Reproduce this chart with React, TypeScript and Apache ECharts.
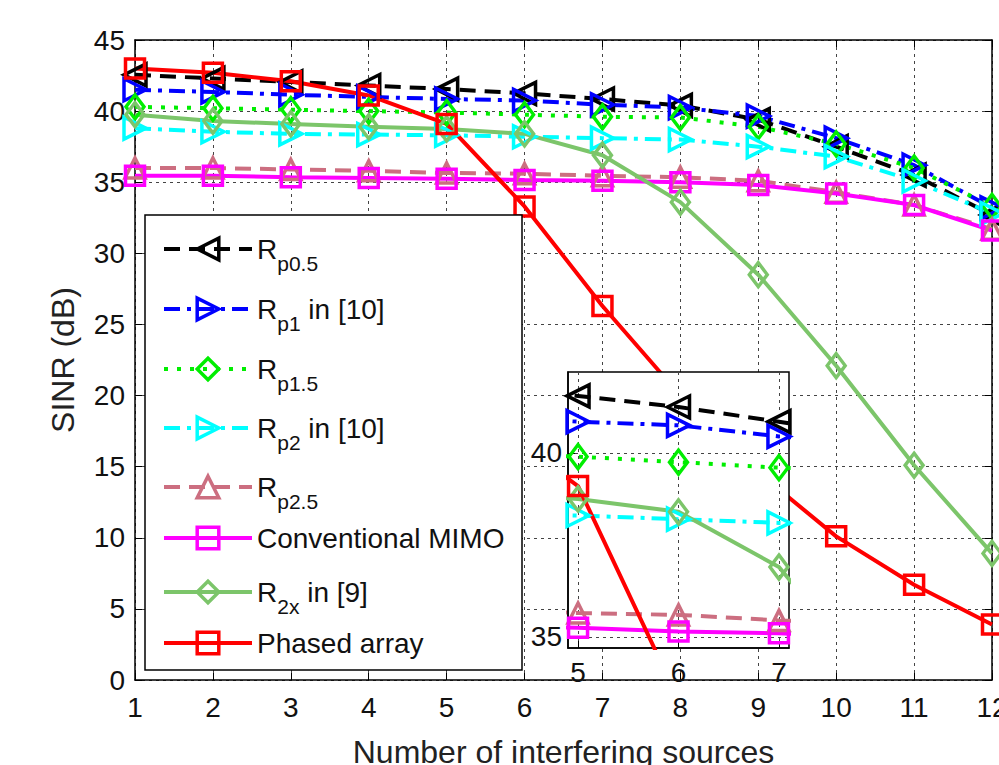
import React, { useEffect, useRef } from "react";
import * as echarts from "echarts";

// ---------- data ----------
const sources = [1, 2, 3, 4, 5, 6, 7, 8, 9, 10, 11, 12];
const rp05 = [42.55, 42.3, 42.05, 41.8, 41.55, 41.25, 40.85, 40.4, 39.4, 37.5, 35.5, 32.7];
const rp1 = [41.5, 41.35, 41.15, 41.0, 40.85, 40.75, 40.45, 40.25, 39.65, 38.1, 36.2, 33.2];
const rp15 = [40.3, 40.2, 40.1, 40.0, 39.9, 39.75, 39.6, 39.55, 38.9, 37.7, 36.0, 33.3];
const rp2 = [38.8, 38.55, 38.4, 38.35, 38.3, 38.2, 38.1, 38.0, 37.5, 36.8, 35.1, 32.8];
const rp25 = [36.0, 36.0, 35.9, 35.8, 35.65, 35.6, 35.45, 35.35, 35.1, 34.3, 33.4, 31.7];
const mimo = [35.45, 35.45, 35.35, 35.3, 35.25, 35.15, 35.1, 35.0, 34.8, 34.2, 33.4, 31.6];
const r2x = [39.75, 39.3, 39.1, 38.9, 38.75, 38.4, 36.9, 33.6, 28.5, 22.1, 15.1, 8.9];
const phased = [43.0, 42.7, 42.1, 41.1, 39.1, 33.3, 26.3, 20.0, 14.6, 10.1, 6.7, 3.9];

const seriesNames = [
  "Rp0.5",
  "Rp1 in [10]",
  "Rp1.5",
  "Rp2 in [10]",
  "Rp2.5",
  "Conventional MIMO",
  "R2x in [9]",
  "Phased array",
];
const seriesValues = [rp05, rp1, rp15, rp2, rp25, mimo, r2x, phased];
const legendLabels = [
  "{r|R}{s|p0.5}",
  "{r|R}{s|p1}{r| in [10]}",
  "{r|R}{s|p1.5}",
  "{r|R}{s|p2}{r| in [10]}",
  "{r|R}{s|p2.5}",
  "{r|Conventional MIMO}",
  "{r|R}{s|2x}{r| in [9]}",
  "{r|Phased array}",
];
const insetXTicks = [5, 6, 7];
const insetYTicks = [35, 40];

// ---------- styles ----------
const styleDefs: any[] = [
  { color: "#000000", dash: [16, 9], symbol: "triangle", rotate: 90, size: 22 },
  { color: "#0000ff", dash: [16, 7, 4, 7], symbol: "triangle", rotate: -90, size: 22 },
  { color: "#00ee00", dash: [4, 9], symbol: "diamond", rotate: 0, size: [18, 24] },
  { color: "#00ffff", dash: [16, 7, 4, 7], symbol: "triangle", rotate: -90, size: 22 },
  { color: "#cc6e80", dash: [16, 9], symbol: "triangle", rotate: 0, size: 20 },
  { color: "#ff00ff", dash: "solid", symbol: "rect", rotate: 0, size: 19 },
  { color: "#7cc56a", dash: "solid", symbol: "diamond", rotate: 0, size: [18, 24] },
  { color: "#ff0000", dash: "solid", symbol: "rect", rotate: 0, size: 19 },
];
const legendCenters = [249, 309, 369, 428, 487, 538, 592, 643];
const FONT = "'Liberation Sans', Arial, Helvetica, sans-serif";
const gridLine = { show: true, lineStyle: { type: [3, 4] as any, color: "#444", width: 1 } };
const axisLineStyle = { show: true, onZero: false, lineStyle: { color: "#000", width: 1.5 } };
const tickStyle = { show: true, inside: true, length: 7, lineStyle: { color: "#000", width: 1 } };

export default function App() {
  const ref = useRef<HTMLDivElement>(null);
  useEffect(() => {
    document.body.style.margin = "0";
    if (!ref.current) return;
    const chart = echarts.init(ref.current, undefined, { renderer: "svg" });

    const series: any[] = [];
    seriesNames.forEach((name, i) => {
      const st = styleDefs[i];
      const data = sources.map((x, j) => [x, seriesValues[i][j]]);
      const common = {
        type: "line",
        name,
        data,
        symbol: st.symbol,
        symbolSize: st.size,
        symbolRotate: st.rotate,
        showAllSymbol: true,
        lineStyle: { color: st.color, width: 4, type: st.dash },
        itemStyle: { color: "rgba(255,255,255,0)", borderColor: st.color, borderWidth: 3.5 },
        emphasis: { disabled: true },
        clip: true,
      };
      series.push({ ...common, xAxisIndex: 0, yAxisIndex: 0, z: 2 });
      series.push({ ...common, xAxisIndex: 2, yAxisIndex: 2, z: 4 });
    });

    const legends = seriesNames.map((name, i) => ({
      data: [name],
      left: 162,
      top: legendCenters[i] - (legendLabels[i].includes("{s|") ? 24.5 : 14),
      orient: "horizontal",
      itemWidth: 88,
      itemHeight: 27,
      padding: 0,
      z: 6,
      selectedMode: false,
      lineStyle: { width: 4 },
      itemStyle: { borderWidth: 3.5 },
      formatter: () => legendLabels[i],
      textStyle: {
        fontFamily: FONT,
        color: "#111",
        rich: {
          r: { fontSize: 28, lineHeight: 28, fontFamily: FONT, color: "#111" },
          s: { fontSize: 21, lineHeight: 21, padding: [28, 0, 0, 0], fontFamily: FONT, color: "#111" },
        },
      },
    }));

    chart.setOption({
      animation: false,
      backgroundColor: "#fff",
      grid: [
        { left: 135, right: 7, top: 40, bottom: 85, containLabel: false, outerBoundsMode: "none" },
        {
          left: 568, top: 372, width: 221, height: 276, show: true, outerBoundsMode: "none",
          backgroundColor: "#fff", borderColor: "#000", borderWidth: 1.5, z: 3,
        },
      ],
      xAxis: [
        {
          type: "value", gridIndex: 0, min: 1, max: 12, interval: 1, position: "bottom",
          axisLine: axisLineStyle, axisTick: tickStyle,
          axisLabel: { fontSize: 28, color: "#111", margin: 13, fontFamily: FONT },
          splitLine: gridLine,
          name: "Number of interfering sources", nameLocation: "middle", nameGap: 56,
          nameTextStyle: { fontSize: 32, color: "#222", fontFamily: FONT },
        },
        {
          type: "value", gridIndex: 0, min: 1, max: 12, interval: 1, position: "top",
          axisLine: axisLineStyle, axisTick: tickStyle, axisLabel: { show: false }, splitLine: { show: false },
        },
        {
          type: "value", gridIndex: 1, min: 4.9, max: 7.1, position: "bottom", z: 3,
          axisLine: axisLineStyle,
          axisTick: { ...tickStyle, customValues: insetXTicks },
          axisLabel: { customValues: insetXTicks, fontSize: 28, color: "#111", margin: 10, fontFamily: FONT },
          splitLine: gridLine,
        },
      ],
      yAxis: [
        {
          type: "value", gridIndex: 0, min: 0, max: 45, interval: 5, position: "left",
          axisLine: axisLineStyle, axisTick: tickStyle,
          axisLabel: { fontSize: 28, color: "#111", margin: 10, fontFamily: FONT },
          splitLine: gridLine,
          name: "SINR (dB)", nameLocation: "middle", nameGap: 56,
          nameTextStyle: { fontSize: 32, color: "#222", fontFamily: FONT },
        },
        {
          type: "value", gridIndex: 0, min: 0, max: 45, interval: 5, position: "right",
          axisLine: axisLineStyle, axisTick: tickStyle, axisLabel: { show: false }, splitLine: { show: false },
        },
        {
          type: "value", gridIndex: 1, min: 34.7, max: 42.2, position: "left", z: 3,
          axisLine: axisLineStyle,
          axisTick: { ...tickStyle, customValues: insetYTicks },
          axisLabel: { customValues: insetYTicks, fontSize: 28, color: "#111", margin: 6, fontFamily: FONT },
          splitLine: gridLine,
        },
      ],
      legend: legends,
      graphic: [
        {
          type: "rect", z: 5, silent: true,
          shape: { x: 145, y: 215, width: 377, height: 455 },
          style: { fill: "#fff", stroke: "#000", lineWidth: 1.5 },
        },
      ],
      series,
    });
    return () => chart.dispose();
  }, []);
  return <div ref={ref} style={{ width: 999, height: 765 }} />;
}
